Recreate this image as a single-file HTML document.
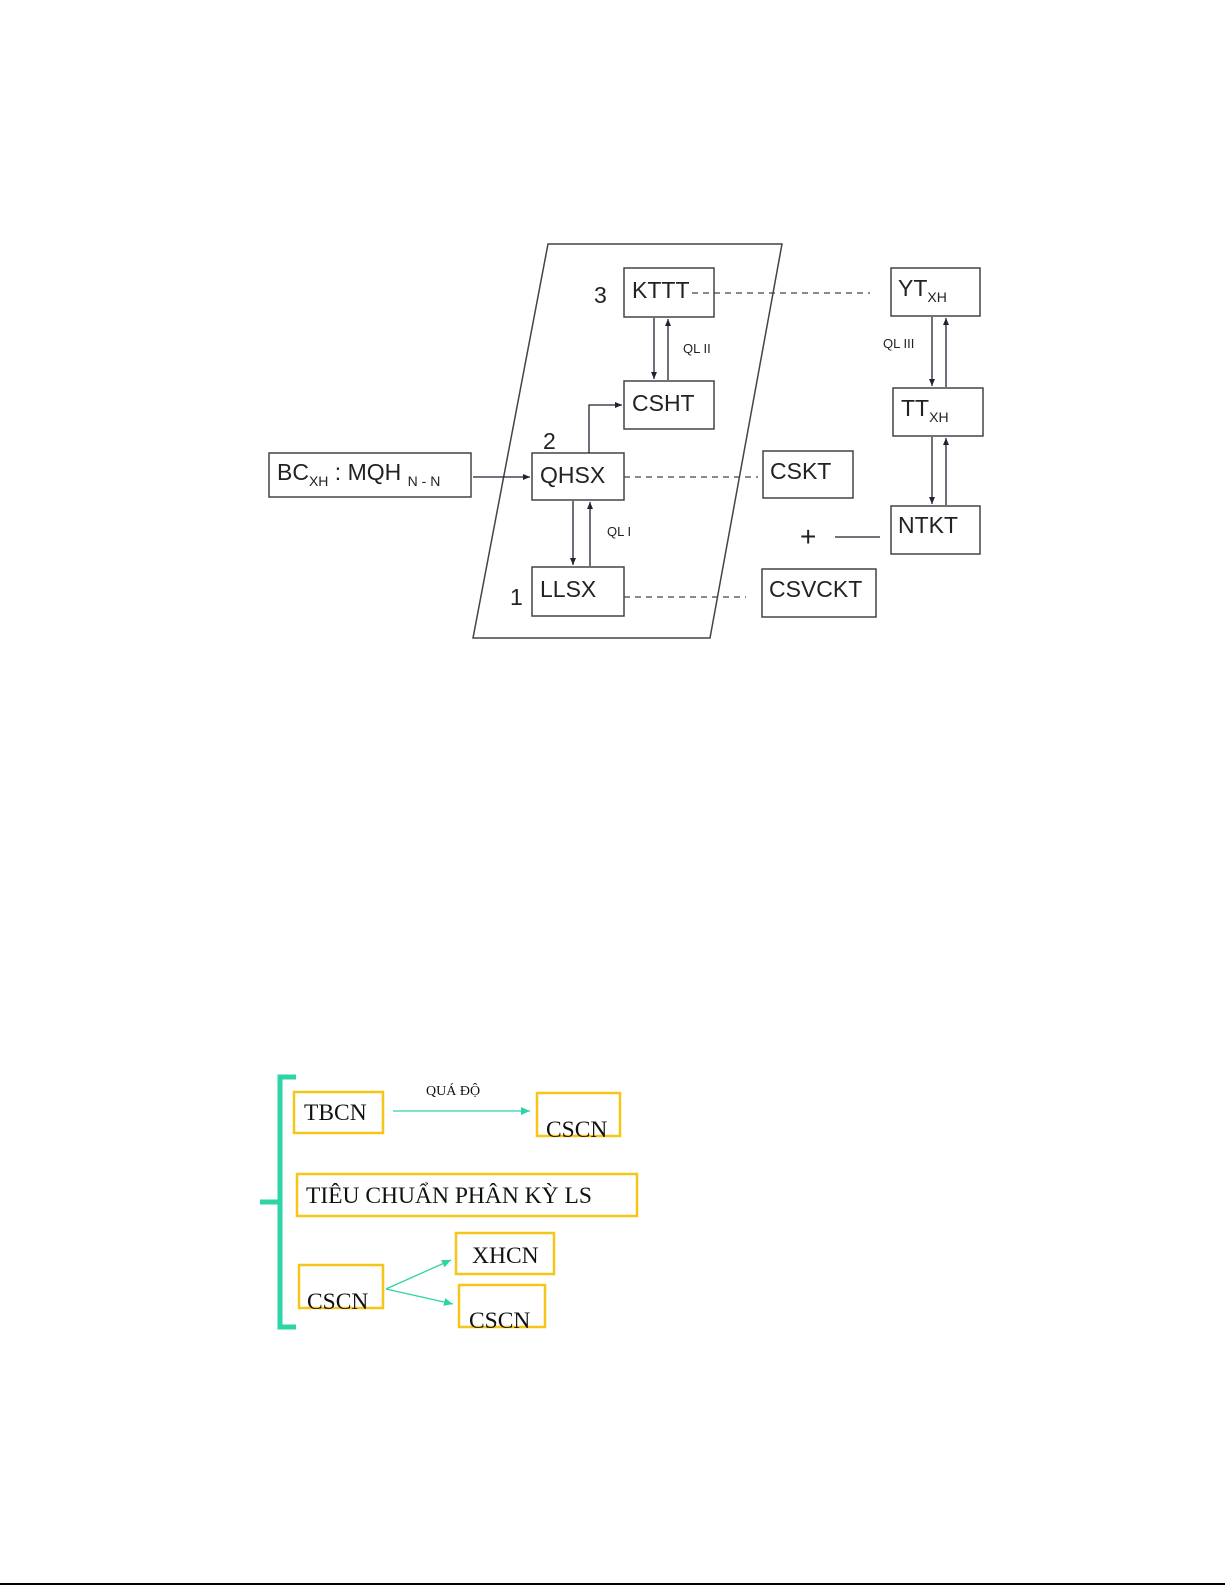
<!DOCTYPE html>
<html><head><meta charset="utf-8"><style>
html,body{margin:0;padding:0;background:#fff}
svg{display:block}
.a{font-family:"Liberation Sans",sans-serif;fill:#222}
.t{font-family:"Liberation Serif",serif;fill:#111}
</style></head><body>
<svg width="1225" height="1585" viewBox="0 0 1225 1585" xmlns="http://www.w3.org/2000/svg">
<defs>
<marker id="ar" markerWidth="8" markerHeight="8" refX="7" refY="4" orient="auto" markerUnits="userSpaceOnUse"><path d="M0,1 L7,4 L0,7z" fill="#223"/></marker>
<marker id="gr" markerWidth="10" markerHeight="10" refX="9" refY="5" orient="auto" markerUnits="userSpaceOnUse"><path d="M0,1 L9,5 L0,9z" fill="#2ed3a6"/></marker>
</defs>
<g stroke="#444" stroke-width="1.5" fill="none">
<polygon points="548,244 782,244 710,638 473,638"/>
<rect x="624" y="268" width="90" height="49" fill="#fff"/>
<rect x="624" y="381" width="90" height="48" fill="#fff"/>
<rect x="532" y="453" width="92" height="47" fill="#fff"/>
<rect x="532" y="567" width="92" height="49" fill="#fff"/>
<rect x="269" y="453" width="202" height="44"/>
<rect x="763" y="451" width="90" height="47"/>
<rect x="762" y="569" width="114" height="48"/>
<rect x="891" y="268" width="89" height="48"/>
<rect x="893" y="388" width="90" height="48"/>
<rect x="891" y="506" width="89" height="48"/>
</g>
<g stroke="#444" stroke-width="1.2" fill="none" stroke-dasharray="6,5">
<line x1="692" y1="293" x2="870" y2="293"/>
<line x1="624" y1="477" x2="758" y2="477"/>
<line x1="624" y1="597" x2="746" y2="597"/>
</g>
<g stroke="#223" stroke-width="1.3" fill="none">
<line x1="654" y1="318" x2="654" y2="379" marker-end="url(#ar)"/>
<line x1="668" y1="380" x2="668" y2="319" marker-end="url(#ar)"/>
<polyline points="589,453 589,405 622,405" marker-end="url(#ar)"/>
<line x1="473" y1="477" x2="530" y2="477" marker-end="url(#ar)"/>
<line x1="573" y1="501" x2="573" y2="565" marker-end="url(#ar)"/>
<line x1="590" y1="566" x2="590" y2="502" marker-end="url(#ar)"/>
<line x1="932" y1="317" x2="932" y2="386" marker-end="url(#ar)"/>
<line x1="946" y1="387" x2="946" y2="318" marker-end="url(#ar)"/>
<line x1="932" y1="437" x2="932" y2="504" marker-end="url(#ar)"/>
<line x1="946" y1="505" x2="946" y2="438" marker-end="url(#ar)"/>
<line x1="835" y1="537" x2="880" y2="537"/>
</g>
<g class="a" font-size="23">
<text x="632" y="298">KTTT</text>
<text x="632" y="411">CSHT</text>
<text x="540" y="483">QHSX</text>
<text x="540" y="597">LLSX</text>
<text x="770" y="479">CSKT</text>
<text x="769" y="597">CSVCKT</text>
<text x="898" y="296">YT<tspan font-size="14" dy="6">XH</tspan></text>
<text x="901" y="416">TT<tspan font-size="14" dy="6">XH</tspan></text>
<text x="898" y="533">NTKT</text>
<text x="277" y="480">BC<tspan font-size="14" dy="6">XH</tspan><tspan dy="-6"> : MQH </tspan><tspan font-size="14" dy="6">N - N</tspan></text>
<text x="594" y="303">3</text>
<text x="543" y="449">2</text>
<text x="510" y="605">1</text>
<text x="800" y="546" font-size="28">+</text>
</g>
<g class="a" font-size="13">
<text x="683" y="353">QL II</text>
<text x="883" y="348">QL III</text>
<text x="607" y="536">QL I</text>
</g>
<path d="M296,1077 L280,1077 L280,1202 L260,1202 M280,1202 L280,1327 L296,1327" stroke="#2ed3a6" stroke-width="5" fill="none"/>
<g stroke="#f5c518" stroke-width="2.5" fill="none">
<rect x="294" y="1092" width="89" height="41"/>
<rect x="537" y="1093" width="83" height="43"/>
<rect x="297" y="1174" width="340" height="42"/>
<rect x="456" y="1233" width="98" height="41"/>
<rect x="299" y="1265" width="84" height="43"/>
<rect x="459" y="1285" width="86" height="42"/>
</g>
<g stroke="#2ed3a6" stroke-width="1.3" fill="none">
<line x1="393" y1="1111" x2="530" y2="1111" marker-end="url(#gr)"/>
<line x1="386" y1="1289" x2="451" y2="1260" marker-end="url(#gr)"/>
<line x1="386" y1="1289" x2="453" y2="1304" marker-end="url(#gr)"/>
</g>
<g class="t" font-size="23.5">
<text x="304" y="1120">TBCN</text>
<text x="546" y="1137">CSCN</text>
<text x="306" y="1203">TIÊU CHUẨN PHÂN KỲ LS</text>
<text x="472" y="1263">XHCN</text>
<text x="307" y="1309">CSCN</text>
<text x="469" y="1328">CSCN</text>
<text x="426" y="1095" font-size="14">QUÁ ĐỘ</text>
</g>
<line x1="0" y1="1584" x2="1225" y2="1584" stroke="#000" stroke-width="2"/>
</svg>
</body></html>
